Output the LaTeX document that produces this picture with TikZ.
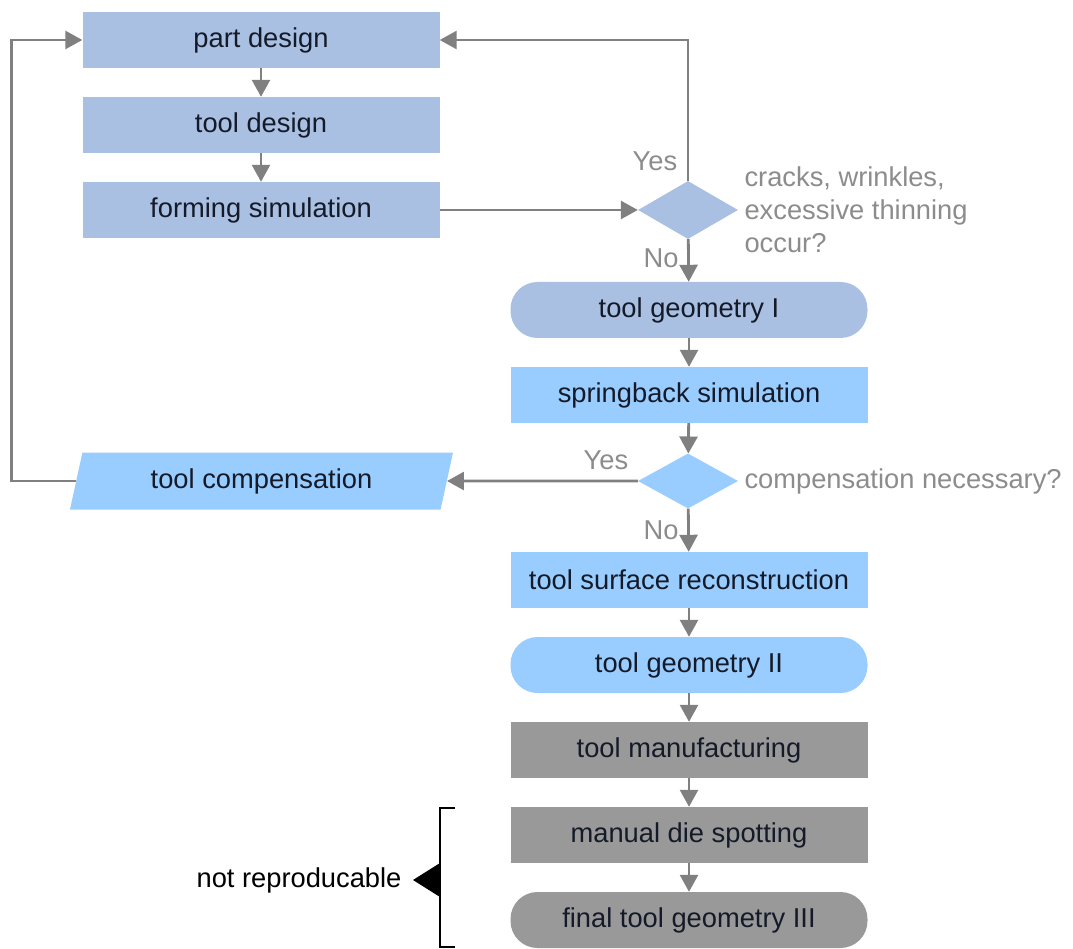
\documentclass[tikz,border=0pt]{standalone}
\usepackage{fontspec}
\setmainfont{Liberation Sans}
\usetikzlibrary{shapes.geometric, arrows.meta}
\definecolor{DesignBlue}{HTML}{A9C0E3}
\definecolor{SimBlue}{HTML}{99CCFF}
\definecolor{ShopGray}{HTML}{999999}
\definecolor{LineGray}{HTML}{808080}
\definecolor{NoteGray}{HTML}{8C8C8C}
\definecolor{BoxText}{HTML}{141A28}

\begin{document}
\begin{tikzpicture}[x=1pt, y=-1pt,
    font=\fontsize{27.3}{32.8}\selectfont,
    box/.style={rectangle, minimum width=357pt, minimum height=56pt, inner sep=0pt, text=BoxText},
    rbox/.style={box, rounded corners=27pt},
    decision/.style={diamond, minimum width=100pt, inner sep=0pt},
    flow/.style={LineGray, line width=2.8pt, -{Triangle[width=18pt,length=17pt]}},
    note/.style={NoteGray, align=left, anchor=west},
    yesno/.style={NoteGray}]
    \useasboundingbox (0,0) rectangle (1073,949);

    % Design loop
    \node[box, fill=DesignBlue] (partdesign) at (261,40) {part design};
    \node[box, fill=DesignBlue] (tooldesign) at (261,125) {tool design};
    \node[box, fill=DesignBlue] (formsim) at (261,210) {forming simulation};
    \node[decision, minimum height=58pt, fill=DesignBlue] (crackdec) at (688,210) {};
    \node[note] (cracknote) at (741,210) {cracks, wrinkles,\\excessive thinning\\occur?};
    \node[yesno] (yesone) at (655,161) {Yes};
    \node[yesno] (noone) at (661,258) {No};

    % Springback loop
    \node[rbox, fill=DesignBlue] (geomone) at (689,310) {tool geometry I};
    \node[box, fill=SimBlue] (springsim) at (689,395) {springback simulation};
    \node[decision, minimum height=55pt, fill=SimBlue] (compdec) at (688,481) {};
    \node[note] (compnote) at (741,481) {compensation necessary?};
    \node[trapezium, trapezium left angle=64, trapezium right angle=116,
          trapezium stretches body, minimum width=383pt, minimum height=57pt,
          inner sep=0pt, fill=SimBlue, text=BoxText] (toolcomp) at (261.5,481) {tool compensation};
    \node[yesno] (yestwo) at (606,460) {Yes};
    \node[yesno] (notwo) at (661,530) {No};

    % Manufacturing
    \node[box, fill=SimBlue] (surfrec) at (689,580) {tool surface reconstruction};
    \node[rbox, fill=SimBlue] (geomtwo) at (689,665) {tool geometry II};
    \node[box, fill=ShopGray] (toolmanu) at (689,750) {tool manufacturing};
    \node[box, fill=ShopGray] (diespot) at (689,835) {manual die spotting};
    \node[rbox, fill=ShopGray] (geomthree) at (689,920) {final tool geometry III};

    % Arrows
    \draw[flow] (partdesign) -- (tooldesign);
    \draw[flow] (tooldesign) -- (formsim);
    \draw[flow] (formsim) -- (crackdec);
    \draw[flow] (crackdec.north) |- (partdesign.east);
    \draw[flow] (crackdec) -- (geomone);
    \draw[flow] (geomone) -- (springsim);
    \draw[flow] (springsim) -- (compdec);
    \draw[flow] (compdec) -- (toolcomp.east);
    \draw[flow] (toolcomp.west) -| ([xshift=-71pt]partdesign.west) -- (partdesign.west);
    \draw[flow] (compdec) -- (surfrec);
    \draw[flow] (surfrec) -- (geomtwo);
    \draw[flow] (geomtwo) -- (toolmanu);
    \draw[flow] (toolmanu) -- (diespot);
    \draw[flow] (diespot) -- (geomthree);

    % Bracket
    \draw[black, line width=2.5pt] (455,808) -| (440,947) -- (455,947);
    \fill[black] (440,863) -- (413,880) -- (440,897) -- cycle;
    \node[anchor=east] (notrepro) at (405,880) {not reproducable};
\end{tikzpicture}
\end{document}
